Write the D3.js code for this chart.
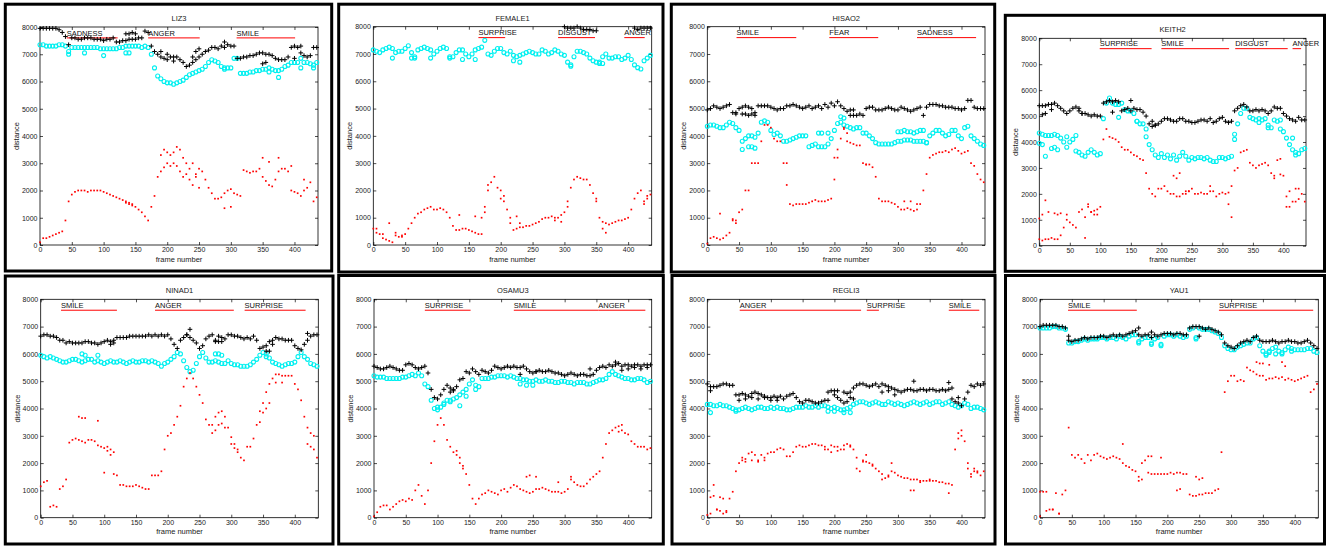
<!DOCTYPE html>
<html>
<head>
<meta charset="utf-8">
<script src="https://cdn.jsdelivr.net/npm/d3@7"></script>
<style>
body { margin: 0; background: #fff; }
svg { display: block; font-family: "Liberation Sans", Arial, sans-serif; }
</style>
</head>
<body>
<div id="chart"></div>
<script>

// frame numbers the main tracks were read at (every 5th frame)
var frames = [
  0,5,10,15,20,25,30,35,40,45,
  50,55,60,65,70,75,80,85,90,95,
  100,105,110,115,120,125,130,135,140,145,
  150,155,160,165,170,175,180,185,190,195,
  200,205,210,215,220,225,230,235,240,245,
  250,255,260,265,270,275,280,285,290,295,
  300,305,310,315,320,325,330,335,340,345,
  350,355,360,365,370,375,380,385,390,395,
  400,405,410,415,420,425,430,435];

var xTicks = [0, 50, 100, 150, 200, 250, 300, 350, 400];
var yTicks = [0, 1000, 2000, 3000, 4000, 5000, 6000, 7000, 8000];

// ---- LIZ3
var liz3Black = [
  7950,7950,7950,7950,7950,7950,7900,7800,7650,7350,
  7600,7600,7550,7550,7600,7600,7600,7550,7550,7550,
  7500,7550,7550,7600,7450,7450,7500,7500,7550,7550,
  7550,7600,7600,7850,7800,7300,7100,7000,6900,6850,
  6800,6900,6750,6900,6800,6700,6550,6600,6700,6800,
  6900,7000,7100,7150,7250,7250,7200,7300,7250,7350,
  7300,7300,6850,6850,6900,6900,6950,6950,7000,7050,
  7050,7000,7000,6950,6850,6800,6800,6800,6900,7250,
  7300,7250,7050,6950,6900,6950,7250,7250];
var liz3Cyan = [
  7350,7350,7300,7300,7300,7300,7350,7350,7300,7100,
  7250,7250,7250,7250,7250,7250,7250,7250,7250,7200,
  7200,7200,7200,7200,7200,7250,7250,7300,7300,7300,
  7300,7300,7250,7300,7250,7000,6500,6200,6100,6000,
  5950,5950,5900,5950,6000,6050,6150,6250,6300,6350,
  6400,6450,6550,6700,6800,6750,6700,6550,6500,6500,
  6500,6850,6850,6300,6300,6300,6350,6350,6400,6400,
  6450,6450,6500,6450,6400,6400,6450,6550,6600,6700,
  6700,6700,6850,6700,6700,6650,6600,6700];
var liz3Red = [
  100,250,250,300,350,400,450,500,900,1600,
  1850,1950,2000,2000,2000,1950,2000,2000,2000,2000,
  1950,1900,1850,1800,1750,1700,1650,1550,1500,1450,
  1400,1300,1200,1050,900,1400,1800,2500,2700,2850,
  3000,3300,3000,2900,2700,2500,2600,2400,2200,2500,
  2800,2700,2400,2100,1900,1700,1700,1750,1900,2000,
  2050,1900,1850,1800,2750,2700,2650,2700,2700,2800,
  2500,2350,2200,2150,2400,2700,2800,2800,2700,2000,
  1950,1900,1800,2000,2100,2300,1600,1750];
// scattered points off the main tracks: [frame, distance]
var liz3BlackExtra = [[135,7750],[140,7750],[145,7800],[150,7750],[190,7100],[200,7000],[210,6900],[240,6900],
  [245,7100],[250,7200],[290,7450],[350,6650],[355,6700],[400,6850],[410,7300]];
var liz3CyanExtra = [[45,7000],[70,7050],[100,6950],[135,7050],[140,7050],[290,6450],[360,6350],[375,6150],[410,6500],[430,6500]];
var liz3RedExtra = [[135,1600],[140,1550],[145,1500],[190,3300],[195,3500],[200,3400],[205,2900],[210,3400],[215,3600],
  [220,3500],[225,3200],[230,3000],[235,2800],[240,3000],[245,2600],[250,2100],[290,1350],[300,1400],[350,3200],
  [360,3050],[375,3200],[395,2900],[415,2400]];
var liz3Labels = [["SADNESS", 42, 122], ["ANGER", 170, 251], ["SMILE", 309, 401]];

// ---- FEMALE1 (black mostly above 8000, not shown)
var female1Black = [
  null,null,null,null,null,null,null,null,null,null,
  null,null,null,null,null,null,null,null,null,null,
  null,null,null,null,null,null,null,null,null,null,
  null,null,null,null,null,null,null,null,null,null,
  null,null,null,null,null,null,null,null,null,null,
  null,null,null,null,null,null,null,null,null,null,
  8000,7950,7950,7950,8000,7950,7900,7900,7900,7850,
  7850,null,null,null,null,null,null,null,null,null,
  null,null,7950,7900,7950,7950,7950,7950];
var female1Cyan = [
  7150,7100,7050,7150,7200,7250,7200,7050,7100,7100,
  7200,7300,7050,6900,7150,7200,7250,7200,7150,7000,
  7100,7200,7250,7200,6900,6900,7050,7150,7150,7000,
  6900,7000,7150,7200,7250,7500,7000,6950,7100,7200,
  7200,7050,7000,7100,6950,6900,6950,7000,7050,7100,
  7050,7000,7000,7150,7100,7000,7050,7150,7100,7000,
  6950,6700,6600,6900,7100,7100,7050,7000,6850,6750,
  6700,6700,6900,7000,6850,6850,6900,6900,6800,6850,
  6950,6800,6600,6500,6450,6750,6850,6950];
var female1Red = [
  600,450,400,250,200,150,100,350,300,300,
  400,600,800,1000,1150,1200,1300,1350,1400,1300,
  1300,1350,1300,1200,1000,700,550,550,600,600,
  550,500,450,400,400,1200,2200,2300,2500,2100,
  2000,1800,1300,800,550,600,650,650,700,700,
  750,800,850,950,1000,1000,1050,1000,1000,1100,
  1200,1600,2100,2400,2500,2450,2400,2400,2200,1900,
  1600,1000,850,800,750,800,850,900,900,950,
  1000,1300,1700,1900,2000,1600,1800,1850];
var female1BlackExtra = [];
var female1CyanExtra = [[30,6850],[60,6850],[65,6850],[90,6850],[120,6850],[140,6800],[160,6800],[220,6750],[230,6700],
  [310,6550],[355,6650],[360,6650]];
var female1RedExtra = [[5,600],[15,400],[25,800],[35,450],[45,350],[135,1100],[160,1050],[170,1000],[175,1400],
  [180,2000],[200,1700],[205,1600],[215,1000],[225,1050],[230,800],[285,900],[295,850],[305,1400],[350,1700],
  [360,600],[365,450],[425,1500],[430,1700]];
var female1Labels = [["SURPRISE", 165, 207], ["DISGUST", 290, 348], ["ANGER", 394, 426]];

// ---- HISAO2
var hisao2Black = [
  4950,5000,5100,5050,5000,5050,5100,5150,4850,4850,
  5000,5050,5100,5050,5000,4850,5100,5100,5100,5100,
  5050,5000,4950,5000,5000,5100,5100,5150,5100,5050,
  5000,5050,5100,5000,5050,5100,5000,5150,5050,5200,
  5100,5250,5100,5000,4900,4950,4950,4750,4800,4750,
  5000,5050,5050,4950,4950,4950,5000,5050,5000,4950,
  4950,5050,5000,4950,4900,4950,5000,5050,4750,5050,
  5150,5150,5150,5100,5100,5050,5050,5050,5000,5000,
  4950,5000,5300,5300,5050,5000,5000,5000];
var hisao2Cyan = [
  4350,4400,4400,4350,4300,4300,4400,4500,4450,4300,
  4200,3800,3900,4000,4000,3950,4100,4500,4550,4500,
  4200,4050,4100,4000,3800,3800,3850,3900,3950,4000,
  4000,4000,3600,3650,3700,4100,4100,3600,3700,3900,
  4200,4450,4500,4400,4350,4300,4250,4300,4300,4100,
  4100,4000,3900,3750,3700,3700,3700,3700,3700,3750,
  3800,3800,3850,3850,3850,3800,3800,3800,3800,3750,
  4000,4100,4200,4200,4100,4000,4050,4200,4200,4000,
  3900,4300,4350,4000,3900,3800,3700,3650];
var hisao2Red = [
  50,250,300,250,200,250,350,450,900,800,
  1200,1300,2000,2000,3000,3000,3000,3800,4400,4400,
  4300,3900,3800,3800,3000,3000,1500,1450,1500,1500,
  1500,1500,1550,1600,1650,1600,1600,1600,1650,1700,
  3200,3500,3900,4250,3800,3750,3700,3650,3650,3000,
  2950,2950,2850,2500,1700,1600,1600,1600,1550,1500,
  1400,1300,1300,1350,1300,1250,1300,1500,2000,2600,
  3200,3300,3350,3400,3400,3450,3400,3500,3550,3450,
  3350,3400,3450,3000,2900,2600,2400,2300];
var hisao2BlackExtra = [[45,4800],[55,4800],[60,4800],[65,4750],[70,4800],[75,4750],[225,4750],[230,4750]];
var hisao2CyanExtra = [[55,3500],[65,3600],[70,3600],[75,3550],[175,3600],[180,3600],[190,4100],[210,4700],[215,4650],
  [300,4150],[305,4150],[310,4200],[315,4150],[320,4150],[325,4100],[330,4150],[335,4200],[340,4200],[345,3750]];
var hisao2RedExtra = [[20,1150],[40,950],[45,900],[125,2200],[200,2400],[205,3200],[215,4300],[220,4100],[250,2950],
  [310,1600],[320,1600],[330,1500]];
var hisao2Labels = [["SMILE", 46, 140], ["FEAR", 192, 269], ["SADNESS", 330, 423]];

// ---- KEITH2
var keith2Black = [
  5400,5400,5400,5450,5450,5500,5400,5300,5200,5100,
  5200,5300,5350,5200,5100,5100,5050,5000,5050,5000,
  5000,5500,5550,5600,5550,5600,5550,5200,5250,5300,
  5200,5300,5250,5250,5150,5000,4700,4800,4650,4700,
  4800,4900,4900,4850,4800,4800,4900,4900,4800,4800,
  4750,4750,4800,4850,4850,4800,4900,4750,4800,4900,
  4950,4800,4750,4800,5200,5300,5400,5450,5350,5200,
  5200,5250,5200,5250,5200,5100,5200,5350,5300,5300,
  5100,5000,4900,4850,4800,4950,4850,4850];
var keith2Cyan = [
  4350,4300,4250,4250,4250,4300,4250,4150,4000,3800,
  4000,4100,3650,3600,3500,3450,3600,3700,3600,3500,
  3550,4900,5500,5700,5500,5450,5450,5500,5250,5200,
  5200,5100,4800,4700,4700,4200,3900,3700,3500,3400,
  3550,3400,3500,3350,3500,3300,3450,3600,3450,3300,
  3400,3350,3400,3400,3350,3400,3300,3250,3250,3400,
  3400,3350,3400,3450,4100,4700,5100,5300,5300,4950,
  4900,4850,4900,4850,4900,4650,4550,4850,4800,4850,
  4400,4150,3900,3700,3600,3550,3700,3750];
var keith2Red = [
  250,200,250,250,300,250,250,400,700,1000,
  900,800,700,1300,1400,1100,1500,1300,1200,1400,
  1500,4100,4500,4200,4150,4100,4000,3800,3700,3700,
  3600,3500,3450,3350,3300,2800,2200,2000,1900,2200,
  2200,2300,2100,2000,2000,1900,1900,2000,2100,2100,
  2200,2000,2000,2050,2000,2000,2100,2100,1900,2000,
  2050,2000,2050,1100,2900,3000,3600,3650,3700,3200,
  3100,3000,3100,3150,3200,3100,2800,2700,3300,3350,
  2700,1500,1500,1700,2200,2200,2000,1700];
var keith2BlackExtra = [[5,5050],[10,5100],[20,5250],[65,5300],[70,5100],[120,5150],[150,5600],[185,4600],[190,4650]];
var keith2CyanExtra = [[0,3950],[5,3900],[10,3450],[20,3750],[25,3800],[30,3700],[45,4200],[60,4250],[130,4950],
  [160,4800],[175,4500],[320,4300],[360,4750],[375,4550],[395,4500],[415,4150],[420,3500]];
var keith2RedExtra = [[0,1050],[5,1200],[10,1750],[15,1300],[25,1250],[30,1200],[35,1250],[45,1200],[75,300],
  [80,1600],[85,1300],[90,1350],[95,1200],[220,2700],[225,2600],[230,2800],[240,2000],[245,2100],[280,2300],
  [310,1600],[315,2300],[385,2600],[395,2750],[405,1900],[410,2100],[420,1700],[425,1800]];
var keith2Labels = [["SURPRISE", 99, 184], ["SMILE", 200, 311], ["DISGUST", 321, 407], ["ANGER", 415, 429]];

// ---- NINAD1
var ninad1Black = [
  6650,6700,6700,6650,6650,6600,6500,6500,6400,6450,
  6400,6400,6400,6400,6450,6450,6400,6400,6350,6400,
  6450,6500,6450,6500,6600,6600,6600,6600,6650,6650,
  6650,6650,6650,6650,6700,6650,6700,6650,6700,6650,
  6700,6550,6350,6200,6500,6600,6700,6600,6500,6400,
  6200,6300,6550,6650,6700,6500,6650,6600,6550,6700,
  6700,6650,6650,6600,6550,6600,6550,6650,6500,6200,
  6250,6300,6450,6500,6600,6550,6550,6500,6500,6500,
  6300,6200,6150,6350,6500,6650,6700,6700];
var ninad1Cyan = [
  5950,5900,5850,5900,5850,5800,5750,5700,5700,5750,
  5800,5800,5750,5700,5750,5800,5800,5700,5750,5700,
  5650,5700,5750,5700,5700,5750,5700,5650,5700,5750,
  5700,5700,5750,5750,5700,5750,5700,5650,5550,5650,
  5700,5800,5900,6050,6000,5750,5500,5350,5400,5650,
  5900,6050,5850,5700,5700,5750,5700,5650,5650,5750,
  5650,5600,5600,5550,5550,5550,5600,5700,5800,5950,
  6050,6000,5850,5700,5650,5600,5550,5600,5650,5650,
  5700,5900,6050,5900,5800,5650,5600,5550];
var ninad1Red = [
  1150,1300,1350,400,450,400,1050,1150,1400,2750,
  2850,2900,2850,2800,2750,2850,2850,2800,2650,2600,
  2550,2450,2300,1600,1550,1200,1200,1150,1150,1150,
  1200,1150,1100,1050,1050,1550,1550,1550,1700,2500,
  3000,3100,3400,3700,4100,4800,5100,5300,5100,4800,
  4500,4200,3600,3400,3400,3700,3850,3900,3700,3300,
  2950,2700,2400,2200,2100,2600,2600,2900,3400,3900,
  4200,4600,4900,5100,5250,5250,5200,5200,5200,5200,
  4900,4700,4300,3700,3300,3100,3000,2200];
var ninad1BlackExtra = [[110,6350],[115,6400],[230,6700],[235,6900],[275,6450],[280,6450],[285,6450],[355,6100],
  [360,6100],[365,6350],[420,6750]];
var ninad1CyanExtra = [[65,6000],[70,5950],[90,5950],[275,6000],[280,6000],[285,5950],[355,5900]];
var ninad1RedExtra = [[60,3700],[65,3650],[70,3650],[90,3550],[100,1650],[105,2600],[110,2500],[115,2400],[270,3100],
  [275,3200],[280,3400],[285,3450],[290,3300],[300,2700],[305,2550],[310,2500],[345,3500],[350,3850],[355,4000],
  [360,4200],[370,4950],[380,4950],[420,2700],[425,2600],[430,2500]];
var ninad1Labels = [["SMILE", 32, 120], ["ANGER", 180, 304], ["SURPRISE", 321, 417]];

// ---- OSAMU3
var osamu3Black = [
  5550,5500,5450,5450,5500,5550,5500,5450,5400,5400,
  5600,5650,5600,5500,5450,5500,5550,5300,4700,4400,
  4350,4500,4700,4850,4750,4650,4800,5050,5100,5350,
  5300,5450,5350,5250,5400,5350,5300,5400,5550,5500,
  5450,5500,5550,5500,5550,5500,5500,5550,5450,5350,
  5300,5350,5400,5350,5350,5400,5350,5300,5300,5250,
  5200,5250,5300,5250,5200,5250,5250,5200,5200,5250,
  5400,5500,5550,5500,5600,5550,5600,5650,5550,5600,
  5600,5550,5600,5600,5550,5600,5600,5600];
var osamu3Cyan = [
  5200,5150,5150,5150,5100,5100,5100,5100,5100,5150,
  5150,5200,5250,5200,5300,5200,4900,4800,4300,4000,
  3950,4050,4150,4300,4300,4350,4400,4500,4600,4700,
  4900,5050,4850,4800,5100,5100,5100,5150,5150,5200,
  5200,5200,5150,5200,5150,5100,5100,5050,5050,5000,
  5000,5050,5000,5000,5050,5000,5000,4950,4950,5000,
  5000,4950,4950,4900,4950,4950,4950,4900,4900,4950,
  5000,5050,5050,5100,5250,5350,5250,5200,5150,5100,
  5100,5050,5050,5100,5100,5050,4950,5000];
var osamu3Red = [
  50,200,400,450,450,300,400,500,600,650,
  600,700,650,1000,1200,800,500,1000,2000,2800,
  3400,3650,3400,2850,2600,2400,2300,2000,1900,1600,
  1200,700,500,700,850,900,1000,950,900,850,
  1000,1050,950,1100,1200,1150,1050,1000,950,900,
  950,1050,1050,1100,1050,1000,950,950,950,900,
  950,1050,1400,1300,1200,1150,1150,1250,1400,1500,
  1600,1700,2200,2700,3100,3200,3300,3350,3400,3100,
  3050,2800,2700,2600,2600,2600,2500,2550];
var osamu3BlackExtra = [[120,4600],[125,4700],[230,5250],[255,5350],[340,5450],[380,5700],[390,5400],[400,5450],
  [410,5500],[420,5450],[430,5500]];
var osamu3CyanExtra = [[100,4050],[110,4200],[120,4250],[135,4100],[145,4450],[160,4700],[230,4900],[240,4850],[250,4850]];
var osamu3RedExtra = [[130,2450],[135,2200],[140,1800],[240,1500],[245,1550],[255,1500],[290,1300],[310,1500],
  [385,3150],[390,3200]];
var osamu3Labels = [["SURPRISE", 80, 152], ["SMILE", 220, 353], ["ANGER", 353, 427]];

// ---- REGLI3
var regli3Black = [
  4900,4800,4800,4800,4850,4900,4900,4850,4850,4500,
  4500,4550,4500,4450,4550,4600,4550,4500,4450,4400,
  4400,4450,4400,4450,4350,4450,4500,4550,4400,4250,
  4200,4300,4300,4250,4200,4200,4250,4300,4600,4650,
  4500,4400,4300,4600,4550,4400,4750,4850,4900,4900,
  4850,4800,4850,4900,4800,4900,4850,4800,4750,4700,
  4650,4600,4650,4700,4700,4650,4650,4700,4700,4650,
  4700,4700,4650,4650,4700,4650,4700,4350,4250,4200,
  4100,4350,4600,4850,4800,4900,4850,4900];
var regli3Cyan = [
  4150,4150,4100,4100,4150,4100,4100,4050,4000,3950,
  3950,4000,4050,4000,3950,4000,4050,4050,4000,4000,
  4050,4000,4050,4000,4000,3950,3950,4000,4050,4050,
  4050,4100,4050,4050,4100,4050,4100,4100,4050,4000,
  4050,4000,3950,3950,4000,4050,4150,4200,4250,4250,
  4200,4150,4200,4250,4200,4150,4150,4250,4200,4150,
  4200,4150,4100,4150,4200,4250,4200,4150,4200,4250,
  4150,4200,4250,4250,4150,4200,4250,4150,4100,4050,
  4100,4200,4150,4000,4050,4050,4000,3950];
var regli3Red = [
  100,750,800,300,750,700,200,700,950,1700,
  2000,2200,2150,2350,2400,2300,2100,2300,2200,2350,
  2400,2400,2500,2550,2500,2250,2250,2400,2600,2650,
  2600,2600,2650,2700,2700,2650,2650,2600,2500,2650,
  2600,2600,2500,2650,2700,2600,2500,2200,1700,2100,
  2050,2000,1950,1800,1700,1600,1450,1550,1700,1650,
  1550,1500,1450,1450,1400,1400,1400,1350,1350,1350,
  1350,1350,1350,1300,1300,1250,1250,1200,2500,3100,
  3200,2800,2000,1600,1700,1700,1550,1700];
var regli3BlackExtra = [[5,4650],[50,4300],[60,4350],[70,4400],[80,4350],[90,4400],[100,4300],[110,4300],
  [190,4300],[200,4650],[205,4650],[215,4200],[220,4250],[225,4600],[230,4350],[275,4600],[285,4650],
  [295,4500],[325,5000],[380,4950],[385,4750],[395,4400]];
var regli3CyanExtra = [[5,3850],[45,3900],[190,3900],[200,3900],[215,3850],[225,3850]];
var regli3RedExtra = [[5,150],[10,1200],[15,300],[20,250],[25,150],[30,250],[55,2100],[60,2050],[70,2100],[80,2050],
  [90,2100],[185,2500],[195,2400],[205,2450],[215,2500],[225,2650],[235,1800],[245,2050],[250,2300],[260,1900],
  [275,1400],[285,1500],[290,2000],[320,1000],[325,1000],[335,1300],[350,1400],[380,900],[395,2900],[400,3000],
  [410,1800],[415,1500],[420,1800],[425,1650]];
var regli3Labels = [["ANGER", 51, 242], ["SURPRISE", 251, 270], ["SMILE", 380, 428]];

// ---- YAU1
var yau1Black = [
  7000,7050,7050,7050,7050,7050,7000,7000,6950,6500,
  6450,6500,6500,6550,6600,6550,6600,6600,6600,6650,
  6650,6600,6650,6700,6650,6700,6650,6700,6750,6800,
  6850,6700,6650,6700,6700,6600,6700,6650,6700,6750,
  6750,6750,6700,6750,6750,6700,6700,6950,7000,7000,
  7000,6950,6900,6950,6900,6850,6800,6700,6400,6300,
  6250,6200,6300,6400,6450,6500,6450,6600,6650,6500,
  6450,6450,6450,6500,6450,6400,6450,6450,6500,6450,
  6450,6400,6400,6450,6500,6400,6300,6200];
var yau1Cyan = [
  6950,6950,6950,6950,7000,7000,6950,6950,6900,6400,
  6400,6450,6450,6500,6550,6500,6550,6550,6550,6600,
  6600,6550,6600,6600,6550,6650,6600,6550,6650,6700,
  6700,6450,6550,6600,6600,6400,6550,6600,6350,6650,
  6700,6700,6650,6700,6650,6600,6650,6900,6950,6600,
  6950,6900,6900,6900,6850,6800,6750,6600,6300,6200,
  6150,6150,6250,6300,6350,6400,6400,6550,6600,6300,
  6100,6000,6100,6200,6250,6100,6050,6150,6250,6200,
  6150,6150,6150,6150,6200,6200,6100,6050];
var yau1Red = [
  950,950,950,300,300,900,150,850,1000,3300,
  2300,2200,2300,2150,2000,2300,2100,2300,2350,2250,
  2200,2150,2200,2250,2200,2150,2000,1900,1850,1750,
  1700,1500,2000,2100,1650,1600,1600,1600,1600,1600,
  1600,1650,1600,1650,1650,1600,1600,850,800,800,
  850,850,900,900,900,1000,1050,2400,4600,5000,
  5200,5200,5000,5050,5000,5500,5400,5350,5250,5200,
  5200,5050,5100,5100,5150,5100,5150,5050,5100,5050,
  5000,5050,5100,5150,5200,4600,4700,4900];
var yau1BlackExtra = [[45,6650],[155,6950],[175,6800],[250,6650]];
var yau1CyanExtra = [[155,6400],[175,6350],[190,6300],[245,6550],[355,5950],[360,6050],[370,6000],[380,6000],[395,6100]];
var yau1RedExtra = [[0,50],[10,250],[20,300],[30,150],[130,2700],[155,1350],[160,1400],[170,2250],[175,2250],
  [190,2200],[215,1000],[220,1050],[245,1500],[250,1400],[255,1450],[340,5700],[345,5650],[350,5650],
  [360,5600],[380,5700],[385,5550]];
var yau1Labels = [["SMILE", 44, 152], ["SURPRISE", 281, 429]];

var panels = [
  {name: "LIZ3",    black: liz3Black,    cyan: liz3Cyan,    red: liz3Red,    labels: liz3Labels,
   blackX: liz3BlackExtra, cyanX: liz3CyanExtra, redX: liz3RedExtra},
  {name: "FEMALE1", black: female1Black, cyan: female1Cyan, red: female1Red, labels: female1Labels,
   blackX: female1BlackExtra, cyanX: female1CyanExtra, redX: female1RedExtra},
  {name: "HISAO2",  black: hisao2Black,  cyan: hisao2Cyan,  red: hisao2Red,  labels: hisao2Labels,
   blackX: hisao2BlackExtra, cyanX: hisao2CyanExtra, redX: hisao2RedExtra},
  {name: "KEITH2",  black: keith2Black,  cyan: keith2Cyan,  red: keith2Red,  labels: keith2Labels,
   blackX: keith2BlackExtra, cyanX: keith2CyanExtra, redX: keith2RedExtra},
  {name: "NINAD1",  black: ninad1Black,  cyan: ninad1Cyan,  red: ninad1Red,  labels: ninad1Labels,
   blackX: ninad1BlackExtra, cyanX: ninad1CyanExtra, redX: ninad1RedExtra},
  {name: "OSAMU3",  black: osamu3Black,  cyan: osamu3Cyan,  red: osamu3Red,  labels: osamu3Labels,
   blackX: osamu3BlackExtra, cyanX: osamu3CyanExtra, redX: osamu3RedExtra},
  {name: "REGLI3",  black: regli3Black,  cyan: regli3Cyan,  red: regli3Red,  labels: regli3Labels,
   blackX: regli3BlackExtra, cyanX: regli3CyanExtra, redX: regli3RedExtra},
  {name: "YAU1",    black: yau1Black,    cyan: yau1Cyan,    red: yau1Red,    labels: yau1Labels,
   blackX: yau1BlackExtra, cyanX: yau1CyanExtra, redX: yau1RedExtra}
];

// frame boxes and plot areas, [left, top, right, bottom] in px
var layout = [
  {box: [5.3, 4.2, 331.7, 271],   plot: [40, 27, 318, 245]},
  {box: [338.7, 4.2, 663, 272],   plot: [373.3, 26.7, 651.7, 245]},
  {box: [671.3, 4.2, 994.7, 272], plot: [707.3, 26.7, 985, 245]},
  {box: [1005.3, 15.3, 1324.5, 271.3], plot: [1039.3, 38.3, 1306, 245.7]},
  {box: [5.3, 276, 333, 544],     plot: [40.7, 299.3, 318.3, 517.7]},
  {box: [338.7, 275.5, 663.3, 544], plot: [374, 299.3, 651.7, 517.7]},
  {box: [672, 275.5, 995, 544],   plot: [707.3, 299.3, 985, 517.7]},
  {box: [1005.5, 275.5, 1324.5, 544], plot: [1040, 299.3, 1318.3, 517.7]}
];

var svg = d3.select("#chart")
  .append("svg")
  .attr("width", 1326)
  .attr("height", 547);

var fontFam = '"Liberation Sans", Arial, sans-serif';

// combine the sampled track with the scattered extra points
function points(track, extra) {
  var pts = frames.map(function(f, k) { return [f, track[k]]; })
    .filter(function(d) { return d[1] != null; });
  return pts.concat(extra);
}

panels.forEach(function(p, i) {
  var L = layout[i];
  var left = L.plot[0], top = L.plot[1], right = L.plot[2], bottom = L.plot[3];

  // thick frame around each panel
  svg.append("rect")
    .attr("x", L.box[0]).attr("y", L.box[1])
    .attr("width", L.box[2] - L.box[0])
    .attr("height", L.box[3] - L.box[1])
    .attr("fill", "none")
    .attr("stroke", "#000")
    .attr("stroke-width", 3);

  var xScale = d3.scaleLinear().domain([0, 437]).range([left, right]);
  var yScale = d3.scaleLinear().domain([0, 8000]).range([bottom, top]);

  // axes, ticks pointing inward on all four sides
  var axes = [
    {axis: d3.axisBottom(xScale).tickValues(xTicks).tickFormat(d3.format("d")), t: "translate(0," + bottom + ")"},
    {axis: d3.axisTop(xScale).tickValues(xTicks).tickFormat(""), t: "translate(0," + top + ")"},
    {axis: d3.axisLeft(yScale).tickValues(yTicks).tickFormat(d3.format("d")), t: "translate(" + left + ",0)"},
    {axis: d3.axisRight(yScale).tickValues(yTicks).tickFormat(""), t: "translate(" + right + ",0)"}
  ];
  axes.forEach(function(a) {
    var g = svg.append("g")
      .attr("transform", a.t)
      .call(a.axis.tickSizeInner(-3).tickSizeOuter(0).tickPadding(2.5));
    g.select(".domain").remove();
    g.selectAll("line").attr("stroke", "#000").attr("stroke-width", 0.7);
    g.selectAll("text").attr("fill", "#1a1a1a");
    g.attr("font-size", 7).attr("font-family", fontFam);
  });

  svg.append("rect")
    .attr("x", left).attr("y", top)
    .attr("width", right - left).attr("height", bottom - top)
    .attr("fill", "none")
    .attr("stroke", "#000")
    .attr("stroke-width", 0.8);

  // title and axis labels
  svg.append("text")
    .attr("x", (left + right) / 2).attr("y", top - 6)
    .attr("text-anchor", "middle")
    .attr("font-size", 7.5).attr("fill", "#1a1a1a")
    .text(p.name);

  svg.append("text")
    .attr("x", (left + right) / 2).attr("y", bottom + 16.5)
    .attr("text-anchor", "middle")
    .attr("font-size", 7.5).attr("fill", "#1a1a1a")
    .text("frame number");

  svg.append("text")
    .attr("transform", "translate(" + (left - 21) + "," + ((top + bottom) / 2) + ") rotate(-90)")
    .attr("text-anchor", "middle")
    .attr("font-size", 7.5).attr("fill", "#1a1a1a")
    .text("distance");

  // expression segments
  p.labels.forEach(function(lb) {
    svg.append("line")
      .attr("x1", xScale(lb[1])).attr("x2", xScale(lb[2]))
      .attr("y1", yScale(7600)).attr("y2", yScale(7600))
      .attr("stroke", "#ff0000")
      .attr("stroke-width", 1);
    svg.append("text")
      .attr("x", xScale(lb[1]))
      .attr("y", yScale(7600) - 2.3)
      .attr("font-size", 7.5)
      .attr("fill", "#111")
      .text(lb[0]);
  });

  svg.append("g").selectAll("circle")
    .data(points(p.cyan, p.cyanX))
    .enter()
    .append("circle")
    .attr("cx", d => xScale(d[0]))
    .attr("cy", d => yScale(d[1]))
    .attr("r", 2)
    .attr("fill", "none")
    .attr("stroke", "#00f0f0")
    .attr("stroke-width", 1.1);

  svg.append("g").selectAll("path")
    .data(points(p.black, p.blackX))
    .enter()
    .append("path")
    .attr("d", d => "M" + (xScale(d[0]) - 2.3) + "," + yScale(d[1]) + "h4.6M" + xScale(d[0]) + "," + (yScale(d[1]) - 2.3) + "v4.6")
    .attr("stroke", "#000")
    .attr("stroke-width", 1);

  svg.append("g").selectAll("rect")
    .data(points(p.red, p.redX))
    .enter()
    .append("rect")
    .attr("x", d => xScale(d[0]) - 0.85)
    .attr("y", d => yScale(d[1]) - 0.85)
    .attr("width", 1.7)
    .attr("height", 1.7)
    .attr("fill", "#ff0000");
});

</script>
</body>
</html>
